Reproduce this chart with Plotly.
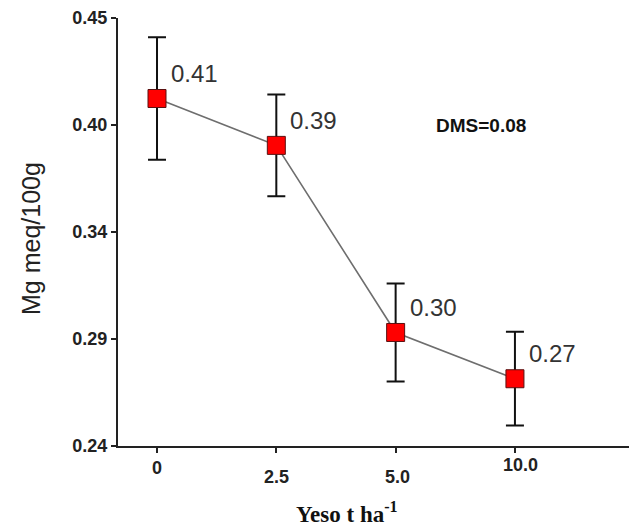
import plotly.graph_objects as go

# Gypsum dose (t/ha) and exchangeable Mg (meq/100 g) with error bars
doses = ["0", "2.5", "5.0", "10.0"]
mg_values = [0.4105, 0.3875, 0.2957, 0.2730]
mg_errors = [0.030, 0.025, 0.024, 0.023]

y_tick_vals = [0.24, 0.2925, 0.345, 0.3975, 0.45]
y_tick_text = ["0.24", "0.29", "0.34", "0.40", "0.45"]

dms_text = "DMS=0.08"

# vertical offsets (px below the axis) of each dose label
x_label_drop = [22, 31, 31, 19]
x_label_nudge = [0, 0, 2, 6]

fig = go.Figure()

fig.add_trace(go.Scatter(
    x=doses,
    y=mg_values,
    mode="lines+markers",
    line=dict(color="#6e6e6e", width=1.6),
    marker=dict(symbol="square", size=18, color="#ff0000",
                line=dict(color="#5a1010", width=1)),
    error_y=dict(type="data", array=mg_errors, visible=True,
                 color="#111111", thickness=2, width=9),
    showlegend=False,
))

annotations = []

# value labels next to each point (category index used as x position)
for i, v in enumerate(mg_values):
    annotations.append(dict(
        x=i, y=v, xref="x", yref="y",
        text=f"{v:.2f}", showarrow=False,
        xanchor="left", yanchor="middle",
        xshift=12, yshift=25,
        font=dict(family="Liberation Sans, Arial", size=24, color="#333333"),
    ))

# dose tick labels
for i, (d, drop, nudge) in enumerate(zip(doses, x_label_drop, x_label_nudge)):
    annotations.append(dict(
        x=i, y=0, xref="x", yref="paper",
        text=f"<b>{d}</b>", showarrow=False,
        xanchor="center", yanchor="middle",
        yshift=-drop, xshift=nudge,
        font=dict(family="Liberation Sans, Arial", size=18, color="#222222"),
    ))

annotations.append(dict(
    x=0.71, y=0.75, xref="paper", yref="paper",
    text=f"<b>{dms_text}</b>", showarrow=False,
    xanchor="center", yanchor="middle",
    font=dict(family="Liberation Sans, Arial", size=19, color="#111111"),
))

annotations.append(dict(
    x=0, y=0.4836, xref="paper", yref="paper",
    text="Mg meq/100g", showarrow=False, textangle=-90,
    xanchor="center", yanchor="middle", xshift=-87,
    font=dict(family="Liberation Sans, Arial", size=25, color="#222222"),
))

annotations.append(dict(
    x=0.448, y=0, xref="paper", yref="paper",
    text="<b>Yeso t ha<sup>-1</sup></b>", showarrow=False,
    xanchor="center", yanchor="middle", yshift=-66,
    font=dict(family="Liberation Serif, Times New Roman", size=23, color="#111111"),
))

fig.update_layout(
    width=629, height=526,
    margin=dict(l=118, r=0, t=18, b=80),
    paper_bgcolor="white", plot_bgcolor="white",
    annotations=annotations,
    xaxis=dict(
        type="category",
        range=[-0.327, 3.956],
        showgrid=False, zeroline=False,
        showline=True, linecolor="#222222", linewidth=2,
        ticks="outside", ticklen=5, tickwidth=2, tickcolor="#222222",
        showticklabels=False,
    ),
    yaxis=dict(
        range=[0.24, 0.45],
        tickvals=y_tick_vals, ticktext=[f"<b>{t}</b>" for t in y_tick_text],
        showgrid=False, zeroline=False,
        showline=True, linecolor="#222222", linewidth=2,
        ticks="outside", ticklen=5, tickwidth=2, tickcolor="#222222",
        tickfont=dict(family="Liberation Sans, Arial", size=18, color="#222222"),
    ),
)

fig.write_html("out.html")
